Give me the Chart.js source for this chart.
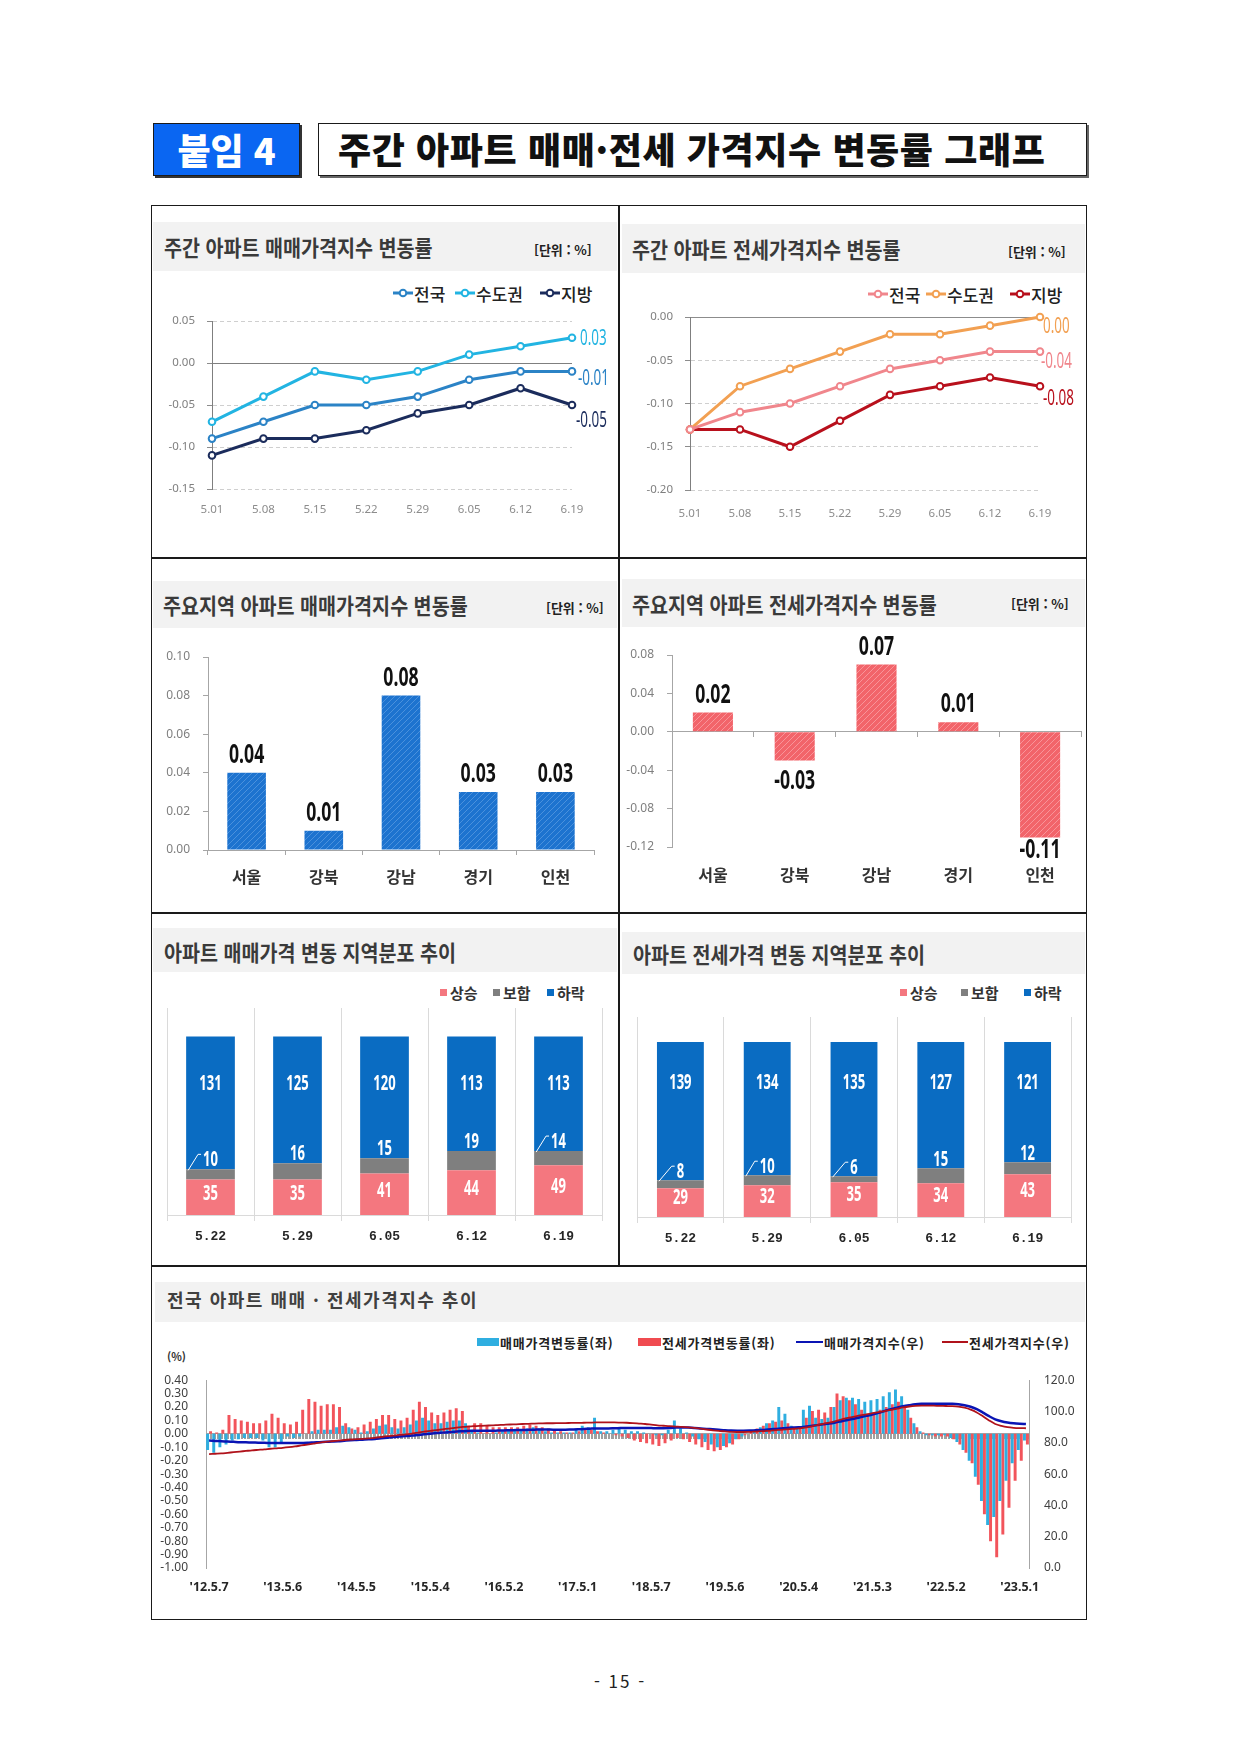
<!DOCTYPE html>
<html lang="ko">
<head>
<meta charset="utf-8">
<title>주간 아파트 매매·전세 가격지수 변동률 그래프</title>
<script src="https://cdn.jsdelivr.net/npm/chart.js@4.4.1/dist/chart.umd.min.js"></script>
<style>
  html, body { margin: 0; padding: 0; background: #fff; }
  body { width: 1240px; height: 1753px; position: relative; overflow: hidden;
         font-family: "Noto Sans CJK KR", "Noto Sans", sans-serif; color: #222; }
  .a { position: absolute; }
  .badge { left: 153px; top: 123px; width: 147px; height: 53px; box-sizing: border-box;
           background: #0A66F2; border: 1px solid #1b1b1b; box-shadow: 2px 2px 0 #333;
           color: #fff; font-weight: 900; font-size: 36px; line-height: 50px; text-align: center; }
  .titlebox { left: 318px; top: 123px; width: 769px; height: 53px; box-sizing: border-box;
              border: 1.5px solid #1a1a1a; box-shadow: 2px 2px 0 #666; background: #fff;
              font-weight: 900; font-size: 36px; line-height: 49px; padding-left: 19px;
              letter-spacing: 0.6px; color: #111; white-space: nowrap; }
  .frame { left: 151px; top: 205px; width: 936px; height: 1415px; box-sizing: border-box; border: 1.5px solid #1a1a1a; }
  .vline { left: 618px; top: 205px; width: 1.5px; height: 1061px; background: #1a1a1a; }
  .hline { left: 151px; width: 936px; height: 1.5px; background: #1a1a1a; }
  .band { background: #F2F2F2; }
  .tt { font-size: 22px; line-height: 22px; font-weight: 700; color: #3a3a3a; white-space: nowrap;
        transform: scaleX(0.89); transform-origin: 0 50%; }
  .tt7 { font-size: 18px; line-height: 20px; font-weight: 700; color: #404040; letter-spacing: 1.5px; white-space: nowrap; }
  .unit { font-size: 13px; line-height: 13px; font-weight: 700; color: #222; white-space: nowrap; }
  .lg { display: flex; align-items: center; height: 20px; font-size: 17px; font-weight: 500; color: #222; white-space: nowrap; }
  .lg svg { margin-right: 1px; }
  .sq { display: flex; align-items: center; height: 18px; font-size: 15px; font-weight: 700; color: #333; white-space: nowrap; }
  .sq i { display: inline-block; width: 7px; height: 7px; margin-right: 3px; }
  .lg7 { display: flex; align-items: center; height: 16px; font-size: 13px; font-weight: 700; color: #222; letter-spacing: 0.8px; white-space: nowrap; }
  .pg { left: 560px; top: 1671px; width: 120px; text-align: center; font-size: 17px; line-height: 20px; letter-spacing: 2px; color: #222; }
</style>
</head>
<body>

<div class="a badge">붙임 4</div>
<div class="a titlebox">주간 아파트 매매·전세 가격지수 변동률 그래프</div>

<div class="a frame"></div>
<div class="a vline"></div>
<div class="a hline" style="top:557px"></div>
<div class="a hline" style="top:912px"></div>
<div class="a hline" style="top:1265px"></div>

<div class="a band" style="left:153px;top:222px;width:464px;height:49px"></div>
<div class="a band" style="left:622px;top:224px;width:463px;height:49px"></div>
<div class="a band" style="left:153px;top:581px;width:464px;height:47px"></div>
<div class="a band" style="left:622px;top:579px;width:463px;height:48px"></div>
<div class="a band" style="left:153px;top:928px;width:464px;height:44px"></div>
<div class="a band" style="left:622px;top:932px;width:463px;height:42px"></div>
<div class="a band" style="left:155px;top:1282px;width:930px;height:40px"></div>

<div class="a tt" style="left:164px;top:235px">주간 아파트 매매가격지수 변동률</div>
<div class="a tt" style="left:632px;top:237px">주간 아파트 전세가격지수 변동률</div>
<div class="a tt" style="left:163px;top:593px">주요지역 아파트 매매가격지수 변동률</div>
<div class="a tt" style="left:632px;top:592px">주요지역 아파트 전세가격지수 변동률</div>
<div class="a tt" style="left:164px;top:940px">아파트 매매가격 변동 지역분포 추이</div>
<div class="a tt" style="left:633px;top:942px">아파트 전세가격 변동 지역분포 추이</div>
<div class="a tt7" style="left:167px;top:1289px">전국 아파트 매매 · 전세가격지수 추이</div>

<div class="a unit" style="left:534px;top:243px">[단위 : %]</div>
<div class="a unit" style="left:1008px;top:245px">[단위 : %]</div>
<div class="a unit" style="left:546px;top:601px">[단위 : %]</div>
<div class="a unit" style="left:1011px;top:597px">[단위 : %]</div>

<!-- 범례: 주간 매매 -->
<div class="a lg" style="left:393px;top:283px"><svg width="20" height="10"><line x1="0" y1="5" x2="20" y2="5" stroke="#2B83C6" stroke-width="3"/><circle cx="10" cy="5" r="3.3" fill="#fff" stroke="#2B83C6" stroke-width="2"/></svg>전국</div>
<div class="a lg" style="left:455px;top:283px"><svg width="20" height="10"><line x1="0" y1="5" x2="20" y2="5" stroke="#22B4E2" stroke-width="3"/><circle cx="10" cy="5" r="3.3" fill="#fff" stroke="#22B4E2" stroke-width="2"/></svg>수도권</div>
<div class="a lg" style="left:540px;top:283px"><svg width="20" height="10"><line x1="0" y1="5" x2="20" y2="5" stroke="#1B2C5C" stroke-width="3"/><circle cx="10" cy="5" r="3.3" fill="#fff" stroke="#1B2C5C" stroke-width="2"/></svg>지방</div>
<!-- 범례: 주간 전세 -->
<div class="a lg" style="left:868px;top:284px"><svg width="20" height="10"><line x1="0" y1="5" x2="20" y2="5" stroke="#F0868C" stroke-width="3"/><circle cx="10" cy="5" r="3.3" fill="#fff" stroke="#F0868C" stroke-width="2"/></svg>전국</div>
<div class="a lg" style="left:926px;top:284px"><svg width="20" height="10"><line x1="0" y1="5" x2="20" y2="5" stroke="#F2A052" stroke-width="3"/><circle cx="10" cy="5" r="3.3" fill="#fff" stroke="#F2A052" stroke-width="2"/></svg>수도권</div>
<div class="a lg" style="left:1010px;top:284px"><svg width="20" height="10"><line x1="0" y1="5" x2="20" y2="5" stroke="#B8101C" stroke-width="3"/><circle cx="10" cy="5" r="3.3" fill="#fff" stroke="#B8101C" stroke-width="2"/></svg>지방</div>
<!-- 범례: 지역분포 -->
<div class="a sq" style="left:440px;top:983px"><i style="background:#F4777F"></i>상승</div>
<div class="a sq" style="left:493px;top:983px"><i style="background:#7F7F7F"></i>보합</div>
<div class="a sq" style="left:547px;top:983px"><i style="background:#0A6CC2"></i>하락</div>
<div class="a sq" style="left:900px;top:983px"><i style="background:#F4777F"></i>상승</div>
<div class="a sq" style="left:961px;top:983px"><i style="background:#7F7F7F"></i>보합</div>
<div class="a sq" style="left:1024px;top:983px"><i style="background:#0A6CC2"></i>하락</div>
<!-- 범례: 장기 추이 -->
<div class="a lg7" style="left:477px;top:1334px"><i style="display:inline-block;width:22px;height:8px;background:#2FAEE0;margin-right:1px"></i>매매가격변동률(좌)</div>
<div class="a lg7" style="left:638px;top:1334px"><i style="display:inline-block;width:23px;height:8px;background:#F04B50;margin-right:1px"></i>전세가격변동률(좌)</div>
<div class="a lg7" style="left:796px;top:1334px"><i style="display:inline-block;width:27px;height:2.5px;background:#0A14B4;margin-right:1px"></i>매매가격지수(우)</div>
<div class="a lg7" style="left:942px;top:1334px"><i style="display:inline-block;width:26px;height:1.5px;background:#B0121B;margin-right:1px"></i>전세가격지수(우)</div>
<div class="a" style="left:167px;top:1350px;font-size:11px;line-height:12px;font-weight:700;color:#333">(%)</div>

<div class="a pg">- 15 -</div>

<script>
// ---- 주간 매매·전세 가격지수 변동률 (%) ----
const weeks = ['5.01', '5.08', '5.15', '5.22', '5.29', '6.05', '6.12', '6.19'];
const saleNat = [-0.09, -0.07, -0.05, -0.05, -0.04, -0.02, -0.01, -0.01];
const saleCap = [-0.07, -0.04, -0.01, -0.02, -0.01, 0.01, 0.02, 0.03];
const saleLocal = [-0.11, -0.09, -0.09, -0.08, -0.06, -0.05, -0.03, -0.05];
const jeonseNat = [-0.13, -0.11, -0.10, -0.08, -0.06, -0.05, -0.04, -0.04];
const jeonseCap = [-0.13, -0.08, -0.06, -0.04, -0.02, -0.02, -0.01, 0.00];
const jeonseLocal = [-0.13, -0.13, -0.15, -0.12, -0.09, -0.08, -0.07, -0.08];

// ---- 주요지역 변동률 (%) ----
const regions = ['서울', '강북', '강남', '경기', '인천'];
const regionSale = [0.04, 0.01, 0.08, 0.03, 0.03];
const regionJeonse = [0.02, -0.03, 0.07, 0.01, -0.11];

// ---- 지역분포 (지역 수) ----
const distWeeks = ['5.22', '5.29', '6.05', '6.12', '6.19'];
const saleUp = [35, 35, 41, 44, 49];
const saleFlat = [10, 16, 15, 19, 14];
const saleDown = [131, 125, 120, 113, 113];
const jeonseUp = [29, 32, 35, 34, 43];
const jeonseFlat = [8, 10, 6, 15, 12];
const jeonseDown = [139, 134, 135, 127, 121];

// ---- 장기 추이 ('12.5 ~ '23.6, 월별로 읽은 값) ----
const longTicks = ["'12.5.7", "'13.5.6", "'14.5.5", "'15.5.4", "'16.5.2", "'17.5.1",
                   "'18.5.7", "'19.5.6", "'20.5.4", "'21.5.3", "'22.5.2", "'23.5.1"];
const saleRate = [
  -0.12, -0.14, -0.10, -0.08, -0.05, -0.04, -0.03, -0.03,
  -0.03, -0.05, -0.10, -0.10, -0.06, -0.02, -0.03, -0.02, 0.00, 0.02, 0.03, 0.03,
  0.03, 0.05, 0.06, 0.05, 0.03, 0.01, 0.02, 0.04, 0.06, 0.07, 0.05, 0.04,
  0.05, 0.07, 0.10, 0.12, 0.10, 0.08, 0.08, 0.09, 0.10, 0.10, 0.08, 0.03,
  0.01, 0.00, 0.00, 0.01, 0.02, 0.03, 0.03, 0.03, 0.04, 0.05, 0.04, 0.02,
  0.01, 0.01, 0.01, 0.01, 0.03, 0.06, 0.05, 0.12, 0.02, 0.02, 0.03, 0.04,
  0.03, 0.02, 0.02, 0.01, 0.00, -0.01, -0.01, 0.03, 0.10, 0.04, 0.01, -0.02,
  -0.04, -0.06, -0.08, -0.10, -0.09, -0.07, -0.04, -0.02, 0.00, 0.03, 0.05, 0.08,
  0.10, 0.20, 0.15, 0.06, 0.04, 0.18, 0.21, 0.12, 0.11, 0.12, 0.20, 0.25,
  0.27, 0.27, 0.26, 0.24, 0.25, 0.26, 0.28, 0.31, 0.33, 0.28, 0.18, 0.08,
  0.02, -0.01, -0.01, -0.01, -0.01, -0.03, -0.06, -0.12, -0.20, -0.32, -0.50, -0.68,
  -0.62, -0.50, -0.35, -0.22, -0.12, -0.05
];
const jeonseRate = [
  0.02, 0.01, 0.03, 0.14, 0.11, 0.10, 0.09, 0.08,
  0.08, 0.10, 0.15, 0.12, 0.08, 0.07, 0.09, 0.18, 0.26, 0.24, 0.21, 0.22,
  0.22, 0.20, 0.08, 0.04, 0.05, 0.07, 0.09, 0.11, 0.14, 0.14, 0.11, 0.10,
  0.12, 0.18, 0.24, 0.20, 0.16, 0.14, 0.16, 0.18, 0.19, 0.17, 0.06, 0.08,
  0.08, 0.06, 0.05, 0.05, 0.05, 0.05, 0.05, 0.06, 0.07, 0.06, 0.05, 0.04,
  0.03, 0.02, 0.01, 0.01, 0.02, 0.03, 0.03, 0.02, 0.01, 0.00, -0.01, -0.02,
  -0.03, -0.05, -0.06, -0.07, -0.08, -0.09, -0.07, -0.05, -0.03, -0.04, -0.06, -0.08,
  -0.10, -0.12, -0.13, -0.12, -0.10, -0.08, -0.04, -0.01, 0.02, 0.04, 0.06, 0.08,
  0.09, 0.10, 0.08, 0.05, 0.05, 0.12, 0.17, 0.18, 0.16, 0.20, 0.30, 0.28,
  0.25, 0.22, 0.18, 0.15, 0.15, 0.18, 0.20, 0.22, 0.24, 0.20, 0.12, 0.05,
  0.01, -0.01, -0.02, -0.02, -0.02, -0.04, -0.08, -0.14, -0.22, -0.38, -0.60, -0.80,
  -0.92, -0.75, -0.55, -0.35, -0.20, -0.08
];
const saleIndex = [
  81.4, 81.2, 81.0, 80.8, 80.6, 80.4, 80.3, 80.2,
  80.1, 80.0, 79.9, 79.8, 79.8, 79.8, 79.8, 79.9, 80.0, 80.2, 80.4, 80.6,
  80.8, 81.0, 81.3, 81.6, 81.8, 82.0, 82.2, 82.5, 82.9, 83.3, 83.7, 84.0,
  84.3, 84.6, 85.0, 85.4, 85.8, 86.2, 86.5, 86.8, 87.1, 87.4, 87.6, 87.7,
  87.7, 87.7, 87.7, 87.8, 87.9, 88.0, 88.1, 88.2, 88.3, 88.4, 88.5, 88.5,
  88.4, 88.4, 88.4, 88.5, 88.6, 88.8, 89.0, 89.2, 89.2, 89.2, 89.3, 89.4,
  89.5, 89.5, 89.5, 89.5, 89.4, 89.3, 89.3, 89.4, 89.7, 89.8, 89.7, 89.5,
  89.2, 88.9, 88.6, 88.3, 88.0, 87.8, 87.7, 87.7, 87.8, 88.0, 88.2, 88.5,
  88.8, 89.1, 89.5, 89.7, 89.9, 90.3, 90.8, 91.3, 91.8, 92.3, 93.0, 93.8,
  94.6, 95.4, 96.3, 97.2, 98.1, 99.1, 100.3, 101.4, 102.4, 103.3, 104.0, 104.6,
  104.9, 105.0, 105.0, 105.0, 105.0, 104.9, 104.6, 104.0, 103.0, 101.5, 99.3, 97.0,
  95.0, 93.8, 93.0, 92.5, 92.2, 92.0
];
const jeonseIndex = [
  72.8, 73.0, 73.2, 73.6, 74.0, 74.4, 74.8, 75.2,
  75.5, 75.8, 76.2, 76.5, 76.8, 77.2, 77.7, 78.3, 78.9, 79.5, 80.1, 80.6,
  81.0, 81.4, 81.8, 82.1, 82.3, 82.5, 82.8, 83.2, 83.7, 84.2, 84.6, 85.0,
  85.4, 85.9, 86.5, 87.1, 87.6, 88.1, 88.6, 89.1, 89.6, 90.0, 90.4, 90.6,
  90.8, 91.0, 91.1, 91.3, 91.5, 91.7, 91.8, 92.0, 92.1, 92.3, 92.4, 92.5,
  92.5, 92.6, 92.6, 92.7, 92.7, 92.8, 92.9, 93.0, 93.0, 93.0, 93.0, 92.9,
  92.8, 92.6, 92.3, 92.0, 91.6, 91.2, 90.9, 90.6, 90.4, 90.2, 89.9, 89.5,
  89.0, 88.5, 88.0, 87.6, 87.3, 87.0, 86.9, 86.9, 87.0, 87.2, 87.4, 87.6,
  88.0, 88.3, 88.6, 88.9, 89.2, 89.7, 90.4, 91.3, 92.1, 92.9, 93.9, 95.0,
  95.9, 96.7, 97.5, 98.2, 98.9, 99.6, 100.3, 101.0, 101.8, 102.6, 103.2, 103.6,
  103.8, 103.8, 103.7, 103.6, 103.5, 103.4, 103.1, 102.4, 101.2, 99.4, 96.9, 94.3,
  92.0, 90.8, 90.0, 89.6, 89.4, 89.3
];
const months = [];
for (let i = 0; i < saleRate.length; i++) {
  const m = 4 + i;
  months.push((2012 + Math.floor(m / 12)) + '.' + (m % 12 + 1));
}
// 0선 위 눈금 (주 단위 축)
const weekTicks = [];
for (let d = new Date(2012, 4, 7); d <= new Date(2023, 5, 19); d.setDate(d.getDate() + 7)) {
  weekTicks.push(d.getFullYear() + '.' + (d.getMonth() + 1) + '.' + d.getDate());
}

Chart.defaults.font.family = '"Noto Sans", "Noto Sans CJK KR", sans-serif';
Chart.defaults.animation = false;
Chart.defaults.plugins.legend.display = false;
Chart.defaults.plugins.tooltip.enabled = false;

// 캔버스 위치와 차트 영역 (페이지 좌표)
function mount(box) {
  const d = document.createElement('div');
  d.className = 'a';
  d.style.cssText = 'left:' + box[0] + 'px;top:' + box[1] + 'px;width:' + box[2] + 'px;height:' + box[3] + 'px';
  const c = document.createElement('canvas');
  d.appendChild(c);
  document.body.appendChild(d);
  return c;
}
function geom(b, a) {
  return { pad: { left: 0, top: a[1] - b[1], right: b[0] + b[2] - a[2], bottom: 0 },
           yw: a[0] - b[0], xh: b[1] + b[3] - a[3], rw: b[0] + b[2] - a[2] };
}
const fixW = w => s => { s.width = w; };
const fixH = h => s => { s.height = h; };
const isZero = c => c.tick && Math.abs(c.tick.value) < 1e-9;
const fmt2 = v => Math.abs(v) < 1e-9 ? '0.00' : v.toFixed(2);

function drawNum(ctx, text, x, y, o) {
  ctx.save();
  ctx.font = (o.weight || 'bold') + ' ' + o.size + 'px "Noto Sans", sans-serif';
  ctx.fillStyle = o.color;
  ctx.textAlign = o.align || 'center';
  ctx.textBaseline = 'alphabetic';
  ctx.translate(x, y);
  ctx.scale(o.sx || 1, 1);
  ctx.fillText(text, 0, 0);
  ctx.restore();
}

function hatch(base, stripe) {
  const c = document.createElement('canvas');
  c.width = 6; c.height = 6;
  const g = c.getContext('2d');
  g.fillStyle = base; g.fillRect(0, 0, 6, 6);
  g.strokeStyle = stripe; g.lineWidth = 1;
  g.beginPath();
  g.moveTo(0, 6); g.lineTo(6, 0);
  g.moveTo(-1, 1); g.lineTo(1, -1);
  g.moveTo(5, 7); g.lineTo(7, 5);
  g.stroke();
  return g.createPattern(c, 'repeat');
}

function lineDs(label, data, color) {
  return { label: label, data: data, borderColor: color, backgroundColor: color, borderWidth: 3,
           pointRadius: 3.3, pointBorderWidth: 2, pointBackgroundColor: '#fff', pointBorderColor: color,
           tension: 0, clip: false };
}

// 마지막 값 표시
const endLabels = {
  id: 'endLabels',
  afterDatasetsDraw(chart, args, opts) {
    const ctx = chart.ctx;
    chart.data.datasets.forEach((ds, i) => {
      const meta = chart.getDatasetMeta(i);
      const pt = meta.data[meta.data.length - 1];
      const v = ds.data[ds.data.length - 1];
      const off = opts.offsets[i];
      drawNum(ctx, fmt2(v), pt.x + off[0], pt.y + off[1] + 7.5, { size: 21, weight: 'normal', color: ds.borderColor, align: 'left', sx: 0.64 });
    });
  }
};

// 막대 값 표시
const barLabels = {
  id: 'barLabels',
  afterDatasetsDraw(chart) {
    const ctx = chart.ctx, area = chart.chartArea;
    const ds = chart.data.datasets[0];
    chart.getDatasetMeta(0).data.forEach((bar, j) => {
      const v = ds.data[j];
      if (v >= 0) {
        drawNum(ctx, fmt2(v), bar.x, bar.y - 10, { size: 26, color: '#111', sx: 0.68 });
      } else {
        const top = Math.min(bar.y + 10, area.bottom - 8);
        drawNum(ctx, fmt2(v), bar.x, top + 18.6, { size: 26, color: '#111', sx: 0.68 });
      }
    });
  }
};

// 누적 막대 값 표시
function stackLabels(cfg) {
  return {
    id: 'stackLabels',
    afterDatasetsDraw(chart) {
      const ctx = chart.ctx;
      const ds = chart.data.datasets;
      const up = chart.getDatasetMeta(0).data, flat = chart.getDatasetMeta(1).data, down = chart.getDatasetMeta(2).data;
      const o = { size: 21, color: '#fff', sx: 0.62 };
      for (let j = 0; j < up.length; j++) {
        const cu = (up[j].y + up[j].base) / 2 + cfg.upShift;
        drawNum(ctx, String(ds[0].data[j]), up[j].x, cu + 7.5, o);
        const cf = flat[j].y - cfg.flatGap;
        const t = String(ds[1].data[j]);
        drawNum(ctx, t, flat[j].x, cf + 7.5, o);
        const cd = down[j].y + cfg.downTop;
        drawNum(ctx, String(ds[2].data[j]), down[j].x, cd + 7.5, o);
        if (cfg.leaders.indexOf(j) >= 0) {
          ctx.save();
          ctx.font = 'bold 21px "Noto Sans", sans-serif';
          const w = ctx.measureText(t).width * 0.62;
          const ex = flat[j].x - w / 2 - 2;
          const left = flat[j].x - flat[j].width / 2;
          ctx.strokeStyle = '#fff'; ctx.lineWidth = 1;
          ctx.beginPath();
          ctx.moveTo(left + 2, flat[j].y + 1);
          ctx.lineTo(ex - 3, cf - 4);
          ctx.lineTo(ex, cf - 4);
          ctx.stroke();
          ctx.restore();
        }
      }
    }
  };
}

// ---------- 1. 주간 아파트 매매가격지수 변동률 ----------
const B1 = [155, 300, 460, 245], A1 = [212, 321, 572, 489], g1 = geom(B1, A1);
new Chart(mount(B1), {
  type: 'line',
  data: { labels: weeks, datasets: [
    lineDs('전국', saleNat, '#2B83C6'),
    lineDs('수도권', saleCap, '#22B4E2'),
    lineDs('지방', saleLocal, '#1B2C5C')
  ] },
  options: {
    responsive: true, maintainAspectRatio: false,
    layout: { padding: g1.pad },
    scales: {
      x: { offset: false, grid: { display: false, drawTicks: false }, border: { display: false },
           ticks: { padding: 14, maxRotation: 0, font: { size: 11.5 }, color: '#8C8C8C' }, afterFit: fixH(g1.xh) },
      y: { min: -0.15, max: 0.05,
           ticks: { stepSize: 0.05, padding: 12, font: { size: 11.5 }, color: '#7F7F7F', callback: fmt2 },
           grid: { color: c => isZero(c) ? '#7F7F7F' : '#CFCFCF', drawTicks: true, tickLength: 5, tickColor: '#8C8C8C' },
           border: { color: '#7F7F7F', dash: c => isZero(c) ? [] : [4, 3] },
           afterFit: fixW(g1.yw) }
    },
    plugins: { endLabels: { offsets: [[6, 6], [8, 0], [4, 14]] } }
  },
  plugins: [endLabels]
});

// ---------- 2. 주간 아파트 전세가격지수 변동률 ----------
const B2 = [623, 296, 460, 249], A2 = [690, 317, 1040, 490], g2 = geom(B2, A2);
new Chart(mount(B2), {
  type: 'line',
  data: { labels: weeks, datasets: [
    lineDs('전국', jeonseNat, '#F0868C'),
    lineDs('수도권', jeonseCap, '#F2A052'),
    lineDs('지방', jeonseLocal, '#B8101C')
  ] },
  options: {
    responsive: true, maintainAspectRatio: false,
    layout: { padding: g2.pad },
    scales: {
      x: { offset: false, grid: { display: false, drawTicks: false }, border: { display: false },
           ticks: { padding: 17, maxRotation: 0, font: { size: 11.5 }, color: '#8C8C8C' }, afterFit: fixH(g2.xh) },
      y: { min: -0.2, max: 0,
           ticks: { stepSize: 0.05, padding: 12, font: { size: 11.5 }, color: '#7F7F7F', callback: fmt2 },
           grid: { color: c => isZero(c) ? '#8C8C8C' : '#CFCFCF', drawTicks: true, tickLength: 5, tickColor: '#8C8C8C' },
           border: { color: '#7F7F7F', dash: c => isZero(c) ? [] : [4, 3] },
           afterFit: fixW(g2.yw) }
    },
    plugins: { endLabels: { offsets: [[1, 9], [3, 8], [3, 11]] } }
  },
  plugins: [endLabels]
});

// ---------- 3. 주요지역 아파트 매매가격지수 변동률 ----------
const B3 = [155, 630, 460, 275], A3 = [208, 657, 594, 850], g3 = geom(B3, A3);
new Chart(mount(B3), {
  type: 'bar',
  data: { labels: regions, datasets: [
    { label: '매매', data: regionSale, backgroundColor: hatch('#1D73CF', '#4B91DC'), categoryPercentage: 1, barPercentage: 0.5 }
  ] },
  options: {
    responsive: true, maintainAspectRatio: false,
    layout: { padding: g3.pad },
    scales: {
      x: { grid: { offset: true, drawOnChartArea: false, drawTicks: true, tickLength: 5, tickColor: '#A6A6A6' },
           border: { color: '#A6A6A6' },
           ticks: { padding: 12.4, font: { size: 16, weight: 'bold', family: '"Noto Sans CJK KR", sans-serif' }, color: '#333' },
           afterFit: fixH(g3.xh) },
      y: { min: 0, max: 0.1,
           ticks: { stepSize: 0.02, padding: 13, font: { size: 12 }, color: '#7F7F7F', callback: fmt2 },
           grid: { drawOnChartArea: false, drawTicks: true, tickLength: 5, tickColor: '#A6A6A6' },
           border: { color: '#A6A6A6' }, afterFit: fixW(g3.yw) }
    }
  },
  plugins: [barLabels]
});

// ---------- 4. 주요지역 아파트 전세가격지수 변동률 ----------
const B4 = [623, 625, 460, 280], A4 = [672, 655, 1081, 847], g4 = geom(B4, A4);
new Chart(mount(B4), {
  type: 'bar',
  data: { labels: regions, datasets: [
    { label: '전세', data: regionJeonse, backgroundColor: hatch('#F2646A', '#F89499'), categoryPercentage: 1, barPercentage: 0.49 }
  ] },
  options: {
    responsive: true, maintainAspectRatio: false,
    layout: { padding: g4.pad },
    scales: {
      x: { grid: { display: false, drawTicks: false }, border: { display: false },
           ticks: { padding: 18.4, font: { size: 16, weight: 'bold', family: '"Noto Sans CJK KR", sans-serif' }, color: '#333' },
           afterFit: fixH(g4.xh) },
      x2: { type: 'category', axis: 'x', position: { y: 0 }, offset: true,
            grid: { offset: true, drawOnChartArea: false, drawTicks: true, tickLength: 5, tickColor: '#A6A6A6' },
            border: { color: '#A6A6A6' }, ticks: { display: false }, afterFit: s => { s.height = 0; } },
      y: { min: -0.12, max: 0.08,
           ticks: { stepSize: 0.04, padding: 13, font: { size: 12 }, color: '#7F7F7F', callback: fmt2 },
           grid: { drawOnChartArea: false, drawTicks: true, tickLength: 5, tickColor: '#A6A6A6' },
           border: { color: '#A6A6A6' }, afterFit: fixW(g4.yw) }
    }
  },
  plugins: [barLabels]
});

// ---------- 5, 6. 지역분포 추이 ----------
function stackChart(box, area, up, flat, down, barPct, yMax, cfg) {
  const g = geom(box, area);
  g.pad.left = g.yw;
  new Chart(mount(box), {
    type: 'bar',
    data: { labels: distWeeks, datasets: [
      { label: '상승', data: up, backgroundColor: '#F4777F', categoryPercentage: 1, barPercentage: barPct },
      { label: '보합', data: flat, backgroundColor: '#7F7F7F', categoryPercentage: 1, barPercentage: barPct },
      { label: '하락', data: down, backgroundColor: '#0A6CC2', categoryPercentage: 1, barPercentage: barPct }
    ] },
    options: {
      responsive: true, maintainAspectRatio: false,
      layout: { padding: g.pad },
      scales: {
        x: { stacked: true,
             grid: { offset: true, color: '#DADADA', drawOnChartArea: true, drawTicks: true, tickLength: 6, tickColor: '#DADADA' },
             border: { color: '#DADADA' },
             ticks: { padding: 8.2, font: { size: 13, weight: 'bold', family: '"Liberation Mono", monospace' }, color: '#262626' },
             afterFit: fixH(g.xh) },
        y: { stacked: true, display: false, min: 0, max: yMax }
      }
    },
    plugins: [stackLabels(cfg)]
  });
}
stackChart([155, 1000, 460, 260], [167, 1008, 602, 1215], saleUp, saleFlat, saleDown, 0.56, 204,
           { downTop: 46, flatGap: 11, upShift: -5, leaders: [0, 4] });
stackChart([623, 1005, 460, 255], [637, 1017, 1071, 1217], jeonseUp, jeonseFlat, jeonseDown, 0.54, 201,
           { downTop: 40, flatGap: 10, upShift: -6, leaders: [0, 1, 2] });

// ---------- 7. 전국 아파트 매매·전세가격지수 추이 ----------
const B7 = [155, 1355, 928, 260], A7 = [206, 1375, 1029, 1568], g7 = geom(B7, A7);
g7.pad.right = 0;
new Chart(mount(B7), {
  data: { labels: months, datasets: [
    { type: 'bar', label: '매매가격변동률(좌)', data: saleRate, backgroundColor: '#2FAEE0', yAxisID: 'y', categoryPercentage: 0.96, barPercentage: 1, order: 3 },
    { type: 'bar', label: '전세가격변동률(좌)', data: jeonseRate, backgroundColor: '#F2545B', yAxisID: 'y', categoryPercentage: 0.96, barPercentage: 1, order: 3 },
    { type: 'line', label: '매매가격지수(우)', data: saleIndex, borderColor: '#0A14B4', borderWidth: 2.5, pointRadius: 0, tension: 0.3, yAxisID: 'y1', order: 2 },
    { type: 'line', label: '전세가격지수(우)', data: jeonseIndex, borderColor: '#B0121B', borderWidth: 1.8, pointRadius: 0, tension: 0.3, yAxisID: 'y1', order: 1 }
  ] },
  options: {
    responsive: true, maintainAspectRatio: false,
    layout: { padding: g7.pad },
    scales: {
      x: { type: 'category', offset: true, grid: { display: false, drawTicks: false }, border: { display: false },
           ticks: { autoSkip: false, maxRotation: 0, padding: 11.5, font: { size: 12.5, weight: 'bold' }, color: '#262626',
                    callback: (v, i) => i % 12 === 0 ? longTicks[i / 12] : '' },
           afterFit: fixH(g7.xh) },
      x2: { type: 'category', axis: 'x', labels: weekTicks, position: { y: 0 }, offset: true,
            grid: { offset: true, drawOnChartArea: false, drawTicks: true, tickLength: 5, tickColor: '#A0A0A0' },
            border: { color: '#A6A6A6' }, ticks: { display: false, autoSkip: false }, afterFit: s => { s.height = 0; } },
      y: { position: 'left', min: -1, max: 0.4,
           ticks: { stepSize: 0.1, autoSkip: false, padding: 18, font: { size: 12 }, color: '#404040', callback: fmt2 },
           grid: { display: false, drawTicks: false }, border: { color: '#A6A6A6' }, afterFit: fixW(g7.yw) },
      y1: { position: 'right', min: 0, max: 120,
            ticks: { stepSize: 20, padding: 15, font: { size: 12 }, color: '#404040', callback: v => v.toFixed(1) },
            grid: { display: false, drawTicks: false }, border: { color: '#A6A6A6' }, afterFit: fixW(g7.rw) }
    }
  }
});
</script>
</body>
</html>
